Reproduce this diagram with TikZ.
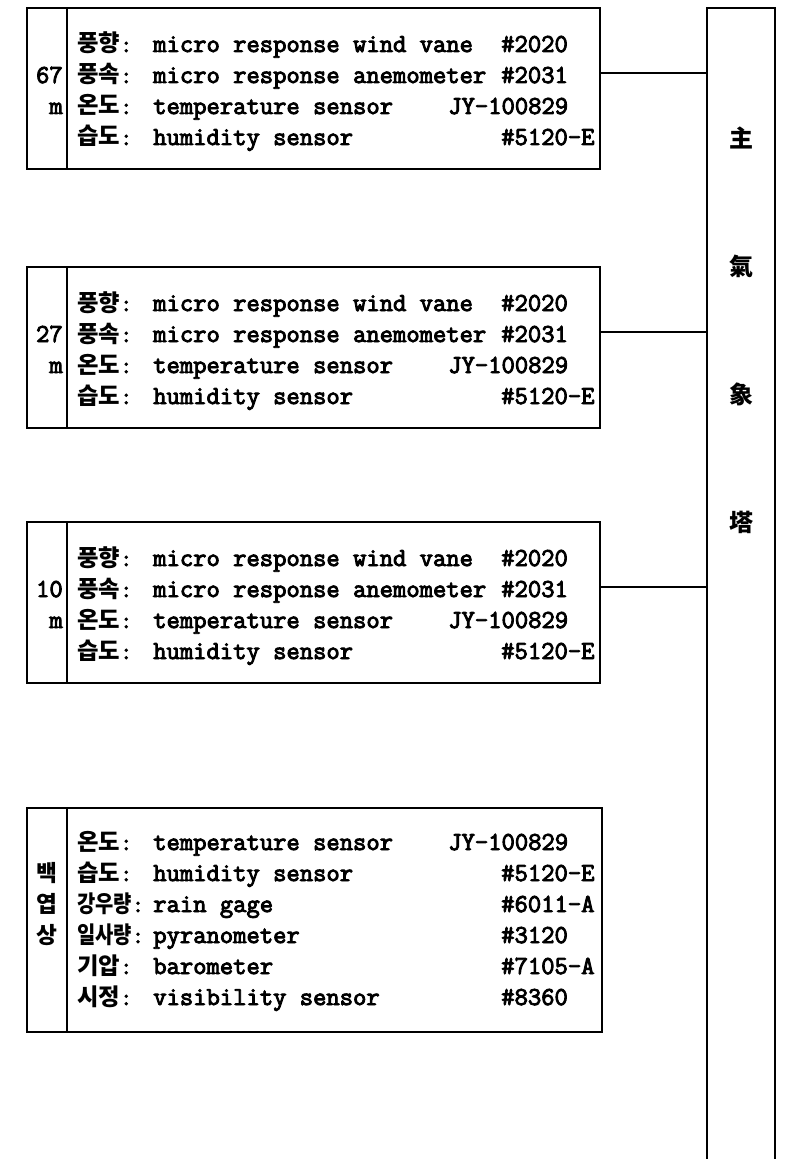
\documentclass[tikz,border=0pt]{standalone}
\usepackage{fontspec}
\newfontfamily\kr{Noto Sans CJK KR}
\newfontfamily\monofam{Latin Modern Mono}[FakeBold=3.5]
\newcommand\mono{\monofam\bfseries}
\newcommand\cln{{\mono:}}
\newcommand\sq[1]{\scalebox{0.85}[1]{#1}}
\tikzset{
  frame/.style={draw, line width=1.4pt, inner sep=0, outer sep=0, anchor=north west},
  link/.style={line width=1pt},
  kor/.style={anchor=base west, inner sep=0, font=\kr\bfseries\fontsize{17.5}{17.5}\selectfont},
  eng/.style={anchor=base west, inner sep=0, font=\fontsize{19.4}{19.4}\selectfont\mono},
  lab/.style={anchor=base east, inner sep=0, font=\fontsize{19.4}{19.4}\selectfont\mono},
  side/.style={inner sep=0, font=\kr\bfseries\fontsize{17}{17}\selectfont},
  hanja/.style={inner sep=0, font=\kr\bfseries\fontsize{18}{18}\selectfont},
}
\newcommand\windbox[3]{%
  \node[frame, minimum width=30pt, minimum height=120.75pt] (#1l) at (27,#2) {};
  \node[frame, minimum width=399.75pt, minimum height=120.75pt] (#1m) at (67,#2) {};
  \node[lab] (#1h) at (63,#2+75) {#3};
  \node[lab] (#1u) at (63,#2+106) {m};
  \node[kor] (#1k1) at (77,#2+44) {풍향\cln};
  \node[eng] (#1e1) at (153,#2+44) {micro response wind vane};
  \node[eng] (#1c1) at (501,#2+44) {\#2020};
  \node[kor] (#1k2) at (77,#2+75) {풍속\cln};
  \node[eng] (#1e2) at (153,#2+75) {micro response anemometer};
  \node[eng] (#1c2) at (501,#2+75) {\#2031};
  \node[kor] (#1k3) at (77,#2+106) {온도\cln};
  \node[eng] (#1e3) at (153,#2+106) {temperature sensor};
  \node[eng] (#1c3) at (448,#2+106) {JY-100829};
  \node[kor] (#1k4) at (77,#2+137) {습도\cln};
  \node[eng] (#1e4) at (153,#2+137) {humidity sensor};
  \node[eng] (#1c4) at (501,#2+137) {\#5120-E};
}
\begin{document}
\begin{tikzpicture}[x=0.75pt,y=-0.75pt]
\useasboundingbox (0,0) rectangle (801,1159);
% tower
\node[inner sep=0, outer sep=0, anchor=north west, minimum width=51pt, minimum height=863.25pt] (tw) at (707,8) {};
\draw[line width=1.4pt] (tw.south west) -- (tw.north west) -- (tw.north east) -- (tw.south east);
\node[hanja] (t1) at (741,138) {主};
\node[hanja] (t2) at (741,266) {氣};
\node[hanja] (t3) at (741,394) {象};
\node[hanja] (t4) at (741,522) {塔};
% wind boxes
\windbox{a}{8}{67}
\windbox{b}{267}{27}
\windbox{c}{522}{10}
% ground box
\node[frame, minimum width=30pt, minimum height=168pt] (dl) at (27,808) {};
\node[frame, minimum width=401.25pt, minimum height=168pt] (dm) at (67,808) {};
\node[side] (s1) at (47,873) {백};
\node[side] (s2) at (47,904) {엽};
\node[side] (s3) at (47,935) {상};
\node[kor] (dk1) at (77,850) {온도\cln};
\node[eng] (de1) at (153,850) {temperature sensor};
\node[eng] (dc1) at (448,850) {JY-100829};
\node[kor] (dk2) at (77,881) {습도\cln};
\node[eng] (de2) at (153,881) {humidity sensor};
\node[eng] (dc2) at (501,881) {\#5120-E};
\node[kor] (dk3) at (77,912) {\sq{강우량}\cln};
\node[eng] (de3) at (153,912) {rain gage};
\node[eng] (dc3) at (501,912) {\#6011-A};
\node[kor] (dk4) at (77,943) {\sq{일사량}\cln};
\node[eng] (de4) at (153,943) {pyranometer};
\node[eng] (dc4) at (501,943) {\#3120};
\node[kor] (dk5) at (77,974) {기압\cln};
\node[eng] (de5) at (153,974) {barometer};
\node[eng] (dc5) at (501,974) {\#7105-A};
\node[kor] (dk6) at (77,1005) {시정\cln};
\node[eng] (de6) at (153,1005) {visibility sensor};
\node[eng] (dc6) at (501,1005) {\#8360};
% connectors
\coordinate (j1) at (0,73);
\coordinate (j2) at (0,332);
\coordinate (j3) at (0,587);
\draw[link] (am.east |- j1) -- (tw.west |- j1);
\draw[link] (bm.east |- j2) -- (tw.west |- j2);
\draw[link] (cm.east |- j3) -- (tw.west |- j3);
\end{tikzpicture}
\end{document}
